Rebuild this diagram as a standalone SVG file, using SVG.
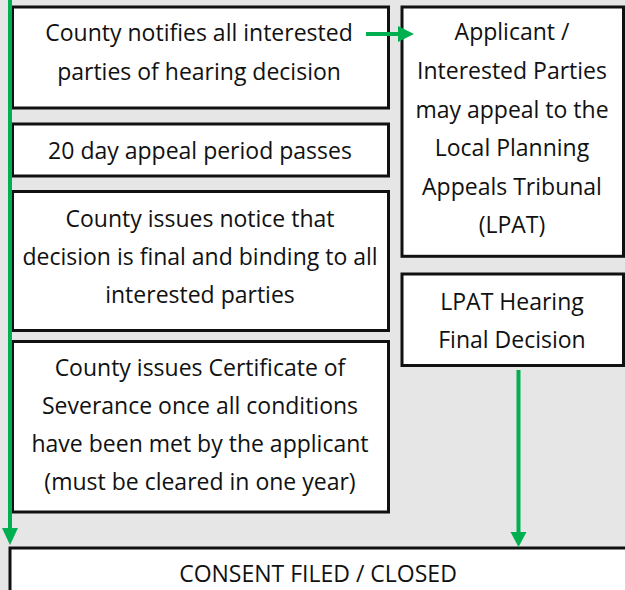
<svg xmlns="http://www.w3.org/2000/svg" width="625" height="590" viewBox="0 0 625 590">
<style>
.box{fill:#fff;stroke:#111;stroke-width:3}
.t{font-family:"Open Sans","Liberation Sans",sans-serif;font-size:23px;fill:#111;text-anchor:middle}
.c{stroke:#00b050;stroke-width:4;fill:none}
.h{fill:#00b050}
</style>
<rect width="625" height="590" fill="#e6e6e6"/>
<g id="n1"><rect class="box" x="12.5" y="7" width="376" height="101"/>
<text class="t" x="199" y="41">County notifies all interested</text>
<text class="t" x="199" y="80">parties of hearing decision</text></g>
<g id="n2"><rect class="box" x="12.5" y="124" width="376" height="52"/>
<text class="t" x="200" y="159">20 day appeal period passes</text></g>
<g id="n3"><rect class="box" x="12.5" y="191.5" width="376" height="139"/>
<text class="t" x="200" y="227">County issues notice that</text>
<text class="t" x="200" y="265">decision is final and binding to all</text>
<text class="t" x="200" y="303">interested parties</text></g>
<g id="n4"><rect class="box" x="12.5" y="341.5" width="376" height="170.5"/>
<text class="t" x="200" y="376">County issues Certificate of</text>
<text class="t" x="200" y="414">Severance once all conditions</text>
<text class="t" x="200" y="452">have been met by the applicant</text>
<text class="t" x="200" y="490">(must be cleared in one year)</text></g>
<g id="n5"><rect class="box" x="402" y="7" width="221.5" height="249.3"/>
<text class="t" x="512" y="40">Applicant /</text>
<text class="t" x="512" y="79">Interested Parties</text>
<text class="t" x="512" y="118">may appeal to the</text>
<text class="t" x="512" y="156">Local Planning</text>
<text class="t" x="512" y="195">Appeals Tribunal</text>
<text class="t" x="512" y="233">(LPAT)</text></g>
<g id="n6"><rect class="box" x="402" y="274" width="221.5" height="91.5"/>
<text class="t" x="512" y="310">LPAT Hearing</text>
<text class="t" x="512" y="348">Final Decision</text></g>
<g id="n7"><rect class="box" x="10" y="548" width="620" height="60"/>
<text class="t" x="318" y="582">CONSENT FILED / CLOSED</text></g>
<g id="connectors">
<line class="c" x1="10" y1="0" x2="10" y2="530"/>
<polygon class="h" points="2,528 18,528 10,545"/>
<line class="c" x1="366" y1="34" x2="400" y2="34"/>
<polygon class="h" points="398,26 398,42 414,34"/>
<line class="c" x1="518.5" y1="370" x2="518.5" y2="534"/>
<polygon class="h" points="510.5,532 526.5,532 518.5,547"/>
</g>
</svg>
